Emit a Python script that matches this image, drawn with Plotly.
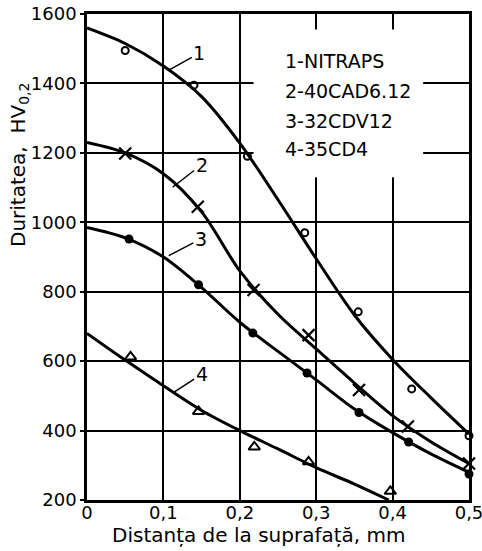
import plotly.graph_objects as go

# ---- data ----
curve_x = [0, 0.05, 0.1, 0.15, 0.2, 0.25, 0.3, 0.35, 0.4, 0.45, 0.5]
curve1_y = [1560, 1515, 1450, 1362, 1228, 1065, 895, 733, 605, 495, 390]
curve2_y = [1230, 1200, 1140, 1030, 860, 735, 635, 537, 443, 368, 305]
curve3_y = [985, 955, 900, 812, 712, 628, 546, 462, 394, 333, 280]
curve4_x = [0, 0.05, 0.1, 0.15, 0.2, 0.25, 0.3, 0.35, 0.395]
curve4_y = [680, 603, 529, 458, 400, 347, 293, 246, 200]

pts1_x = [0.05, 0.14, 0.21, 0.285, 0.355, 0.425, 0.5]
pts1_y = [1495, 1395, 1190, 970, 742, 520, 385]
pts2_x = [0.05, 0.145, 0.218, 0.29, 0.356, 0.42, 0.5]
pts2_y = [1198, 1045, 805, 675, 517, 412, 305]
pts3_x = [0.055, 0.146, 0.217, 0.288, 0.356, 0.421, 0.5]
pts3_y = [952, 820, 681, 566, 452, 367, 275]
pts4_x = [0.057, 0.146, 0.219, 0.29, 0.397]
pts4_y = [612, 455, 353, 310, 225]

x_tickvals = [0, 0.1, 0.2, 0.3, 0.4, 0.5]
x_ticktext = ["0", "0,1", "0,2", "0,3", "0,4", "0,5"]
y_tickvals = [200, 400, 600, 800, 1000, 1200, 1400, 1600]
y_ticktext = ["200", "400", "600", "800", "1000", "1200", "1400", "1600"]

legend_lines = ["1-NITRAPS", "2-40CAD6.12", "3-32CDV12", "4-35CD4"]
legend_y = [1465, 1378, 1292, 1211]
legend_x = 0.257

curve_labels = ["1", "2", "3", "4"]
label_tip_x = [0.106, 0.112, 0.107, 0.114]
label_tip_y = [1437, 1101, 904, 511]
label_txt_x = [0.147, 0.150, 0.149, 0.150]
label_txt_y = [1487, 1166, 952, 562]

x_title = "Distanța de la suprafață, mm"
y_title = "Duritatea,  HV<sub>0,2</sub>"

FONT = "DejaVu Sans"
fig = go.Figure()

for cx, cy in [(curve_x, curve1_y), (curve_x, curve2_y), (curve_x, curve3_y), (curve4_x, curve4_y)]:
    fig.add_trace(go.Scatter(x=cx, y=cy, mode="lines", line=dict(color="black", width=3, shape="spline", smoothing=0.9),
                             showlegend=False, hoverinfo="skip"))

fig.add_trace(go.Scatter(x=pts1_x, y=pts1_y, mode="markers", cliponaxis=False,
                         marker=dict(symbol="circle-open", size=7, color="black", line=dict(width=2)), showlegend=False))
fig.add_trace(go.Scatter(x=pts2_x, y=pts2_y, mode="markers", cliponaxis=False,
                         marker=dict(symbol="x-thin-open", size=12, color="black", line=dict(width=2.2)), showlegend=False))
fig.add_trace(go.Scatter(x=pts3_x, y=pts3_y, mode="markers", cliponaxis=False,
                         marker=dict(symbol="circle", size=9, color="black"), showlegend=False))
fig.add_trace(go.Scatter(x=pts4_x, y=pts4_y, mode="markers", cliponaxis=False,
                         marker=dict(symbol="triangle-up-open", size=10, color="black", line=dict(width=2)), showlegend=False))

# white box behind the key (hides gridlines)
fig.add_shape(type="rect", xref="x", yref="y", x0=0.218, x1=0.44, y0=1130, y1=1555,
              fillcolor="white", line=dict(width=0), layer="between")

for t, yy in zip(legend_lines, legend_y):
    fig.add_annotation(x=legend_x, y=yy, xref="x", yref="y", text=t, showarrow=False,
                       xanchor="left", yanchor="middle", font=dict(family=FONT, size=19, color="black"))

for t, tx, ty, ax, ay in zip(curve_labels, label_tip_x, label_tip_y, label_txt_x, label_txt_y):
    fig.add_annotation(x=tx, y=ty, xref="x", yref="y", ax=ax, ay=ay, axref="x", ayref="y",
                       text=t, showarrow=True, arrowhead=0, arrowwidth=1.5, arrowcolor="black",
                       font=dict(family=FONT, size=19, color="black"))

fig.add_annotation(x=0.225, y=-0.072, xref="x", yref="paper", text=x_title, showarrow=False,
                   xanchor="center", yanchor="middle", font=dict(family=FONT, size=20, color="black"))
fig.add_annotation(x=-0.178, y=1165, xref="paper", yref="y", text=y_title, showarrow=False, textangle=-90,
                   xanchor="center", yanchor="middle", font=dict(family=FONT, size=20, color="black"))

axis_common = dict(showgrid=True, gridcolor="black", gridwidth=1.5, showline=True, linecolor="black",
                   linewidth=2.5, mirror=True, zeroline=False, automargin=False,
                   tickfont=dict(family=FONT, size=18, color="black"))

fig.update_xaxes(range=[0, 0.5], tickvals=x_tickvals, ticktext=x_ticktext, ticks="",
                 ticklabelstandoff=-5, ticklabeloverflow="allow", **axis_common)
fig.update_yaxes(range=[200, 1600], tickvals=y_tickvals, ticktext=y_ticktext,
                 ticks="outside", ticklen=4, tickcolor="black", tickwidth=1.5,
                 ticklabeloverflow="allow", **axis_common)

fig.update_layout(width=482, height=551, margin=dict(l=87, r=13, t=14, b=51),
                  plot_bgcolor="white", paper_bgcolor="white", showlegend=False)

fig.write_html("out.html")
